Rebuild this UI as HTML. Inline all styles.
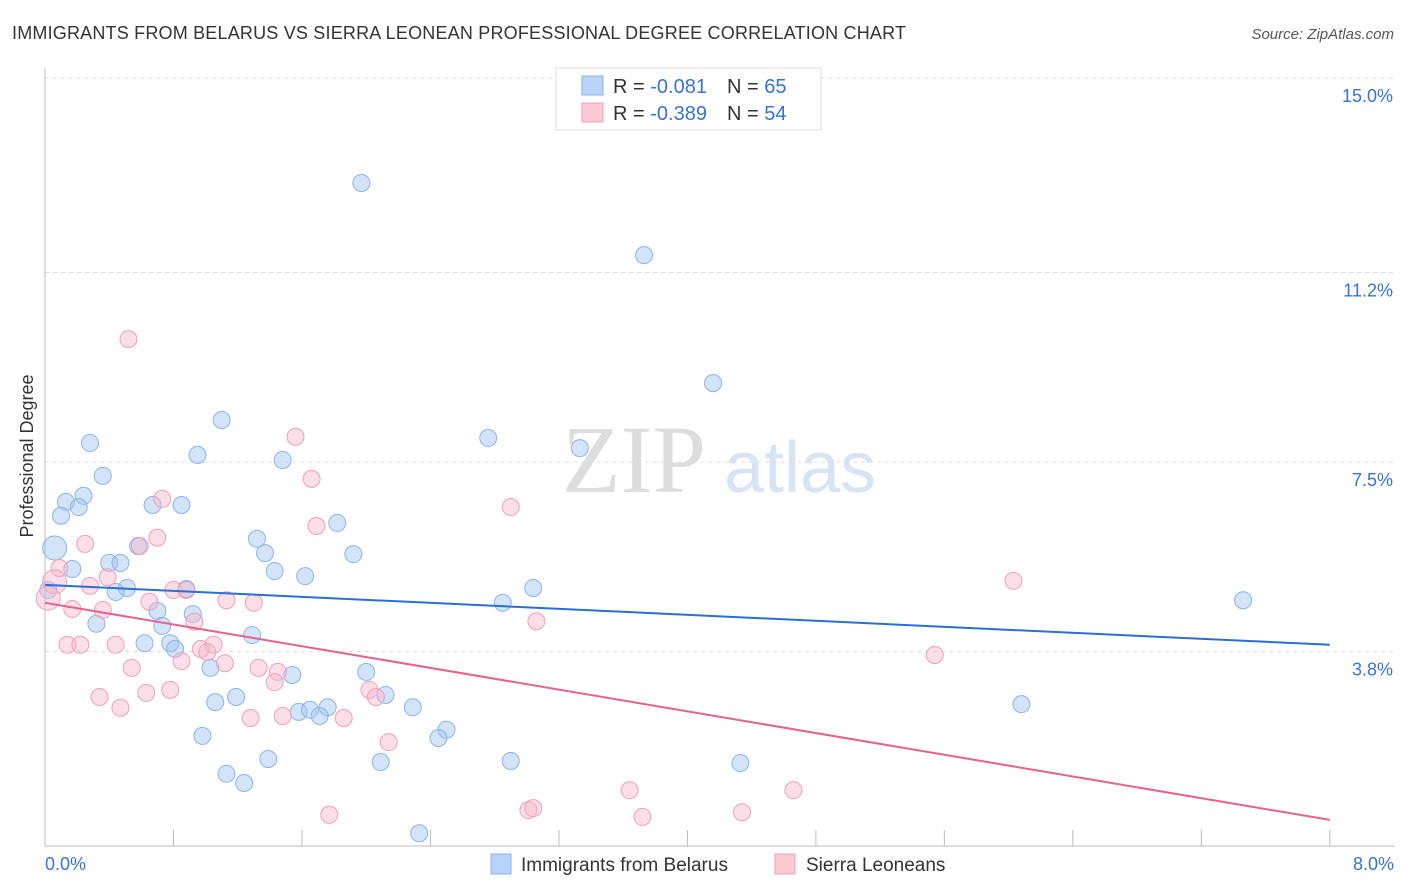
<!DOCTYPE html>
<html><head><meta charset="utf-8"><style>
body{margin:0;background:#fff;font-family:"Liberation Sans",sans-serif;}
svg{display:block}
</style></head><body>
<svg id="chart" width="1406" height="892" font-family="Liberation Sans, sans-serif">
<text x="12" y="39" font-size="18" fill="#333" textLength="894">IMMIGRANTS FROM BELARUS VS SIERRA LEONEAN PROFESSIONAL DEGREE CORRELATION CHART</text>
<text x="1394" y="39" font-size="15" fill="#555" text-anchor="end" font-style="italic">Source: ZipAtlas.com</text>
<text x="33" y="456" font-size="18" fill="#333" text-anchor="middle" transform="rotate(-90 33 456)">Professional Degree</text>
<g><text x="634" y="492" font-size="96" fill="#ddd" text-anchor="middle" font-family="Liberation Serif, serif">ZIP</text><text x="800" y="492" font-size="72" fill="#d6e4f5" text-anchor="middle">atlas</text></g>
<g id="grid"></g><g id="axes"></g><g id="pts"></g><g id="trend"></g>
<g>
<rect x="556" y="68" width="265" height="62" fill="#fff" stroke="#ddd"/>
<rect x="582" y="76" width="21" height="19" fill="#b8d3f5" stroke="#8ab4e8"/>
<rect x="582" y="103" width="21" height="19" fill="#fbc8d6" stroke="#f0a0b8"/>
<text x="613" y="93" font-size="20" fill="#333">R = <tspan fill="#3a72d0">-0.081</tspan><tspan dx="20">N = </tspan><tspan fill="#3a72d0">65</tspan></text>
<text x="613" y="120" font-size="20" fill="#333">R = <tspan fill="#3a72d0">-0.389</tspan><tspan dx="20">N = </tspan><tspan fill="#3a72d0">54</tspan></text>
</g>
<g>
<rect x="491" y="854" width="20" height="20" fill="#b8d3f5" stroke="#8ab4e8"/>
<text x="521" y="871" font-size="19" fill="#333">Immigrants from Belarus</text>
<rect x="775" y="854" width="20" height="20" fill="#fbc8d6" stroke="#f0a0b8"/>
<text x="806" y="871" font-size="19" fill="#333">Sierra Leoneans</text>
</g>
</svg>
<script>
const yTicks=[15.0,11.2,7.5,3.8];
const yTickLabels=["15.0%","11.2%","7.5%","3.8%"];
const xTicks=[0,0.8,1.6,2.4,3.2,4.0,4.8,5.6,6.4,7.2,8.0];
const xEndLabels=["0.0%","8.0%"];
const belarusX=[1.97,3.73,4.16,1.10,0.28,2.76,3.33,0.95,1.48,0.36,0.13,0.24,0.21,0.10,0.67,0.85,1.82,1.32,0.06,0.58,1.37,1.92,0.17,0.40,0.47,1.43,1.62,0.51,0.44,0.88,3.04,2.85,7.46,0.70,0.92,0.32,0.73,1.29,0.62,0.78,0.81,2.00,1.03,1.54,1.19,1.06,2.12,1.58,1.65,1.76,1.71,2.29,2.50,2.45,0.98,1.39,2.90,2.09,4.33,1.13,1.24,2.33,6.08,0.02];
const belarusY=[12.95,11.54,9.04,8.32,7.87,7.97,7.77,7.64,7.54,7.23,6.72,6.84,6.62,6.45,6.66,6.66,6.31,6.00,5.82,5.86,5.72,5.70,5.41,5.53,5.53,5.37,5.27,5.04,4.96,5.02,5.04,4.75,4.80,4.59,4.53,4.34,4.30,4.12,3.96,3.96,3.85,3.40,3.48,3.34,2.91,2.81,2.95,2.62,2.66,2.71,2.54,2.71,2.27,2.11,2.15,1.70,1.66,1.64,1.62,1.41,1.23,0.25,2.77,5.00];
const sierraX=[0.52,1.56,1.66,2.90,0.73,1.69,0.25,0.70,0.59,0.09,0.06,6.03,0.39,0.28,0.02,0.80,0.88,1.13,1.30,0.65,0.17,0.36,0.93,3.06,0.14,0.22,0.44,1.05,0.97,1.01,5.54,0.85,1.12,0.54,1.33,1.45,1.43,0.78,0.63,0.34,2.02,2.06,0.47,1.28,1.48,1.86,2.14,3.64,4.66,1.77,3.01,3.04,3.72,4.34];
const sierraY=[9.90,7.99,7.17,6.62,6.78,6.25,5.90,6.02,5.86,5.43,5.16,5.18,5.25,5.08,4.84,5.00,5.00,4.80,4.75,4.77,4.63,4.61,4.38,4.39,3.93,3.93,3.93,3.93,3.85,3.79,3.73,3.61,3.57,3.48,3.48,3.40,3.20,3.05,2.99,2.91,3.05,2.91,2.70,2.50,2.54,2.50,2.03,1.09,1.09,0.61,0.70,0.74,0.57,0.66];
const belarusBig=[18]; const sierraBig=[10,14];
const trendBelarus=[5.10,3.93];
const trendSierra=[4.75,0.51];
const NS="http://www.w3.org/2000/svg";
const X=v=>45+v*160.6, Y=v=>846-v*51.2;
function mk(t,a,p){const e=document.createElementNS(NS,t);for(const k in a)e.setAttribute(k,a[k]);p.appendChild(e);return e;}
const grid=document.getElementById('grid'),axes=document.getElementById('axes'),pts=document.getElementById('pts'),tr=document.getElementById('trend');
yTicks.forEach((t,i)=>{
 const l=mk('line',{x1:45,x2:1395,y1:Y(t),y2:Y(t),stroke:'#ddd','stroke-dasharray':'4,4'},grid);
 
 
 const tx=mk('text',{x:1393,y:Y(t)+24,'font-size':18,fill:'#3a72d0','text-anchor':'end'},axes);
 tx.textContent=yTickLabels[i];
 
 
});
const xa=mk('line',{x1:45,x2:1395,y1:846,y2:846,stroke:'#bbb'},axes);


const ya=mk('line',{x1:45,x2:45,y1:68,y2:846,stroke:'#bbb'},axes);


xTicks.forEach(t=>{const l=mk('line',{x1:X(t),x2:X(t),y1:830,y2:846,stroke:'#bbb'},axes);
 
 });
[[0,'start',45],[8,'end',1394]].forEach((d,i)=>{const tx=mk('text',{x:d[2],y:870,'font-size':18,fill:'#3a72d0','text-anchor':d[1]},axes);tx.textContent=xEndLabels[i];
 
 });
function series(xs,ys,big,fill,stroke,name){xs.forEach((x,i)=>{const c=mk('circle',{cx:X(x),cy:Y(ys[i]),r:big.includes(i)?12:8.5,fill:fill,stroke:stroke,'stroke-width':1},pts);
 
 });}
series(belarusX,belarusY,belarusBig,'rgba(160,196,240,0.45)','#8ab4e8','belarus-point');
series(sierraX,sierraY,sierraBig,'rgba(247,182,202,0.45)','#f0a0b8','sierra-point');
const t1=mk('line',{x1:X(0),y1:Y(trendBelarus[0]),x2:X(8),y2:Y(trendBelarus[1]),stroke:'#2a6fd6','stroke-width':2},tr);


const t2=mk('line',{x1:X(0),y1:Y(trendSierra[0]),x2:X(8),y2:Y(trendSierra[1]),stroke:'#e8608e','stroke-width':2},tr);


</script>
</body></html>
